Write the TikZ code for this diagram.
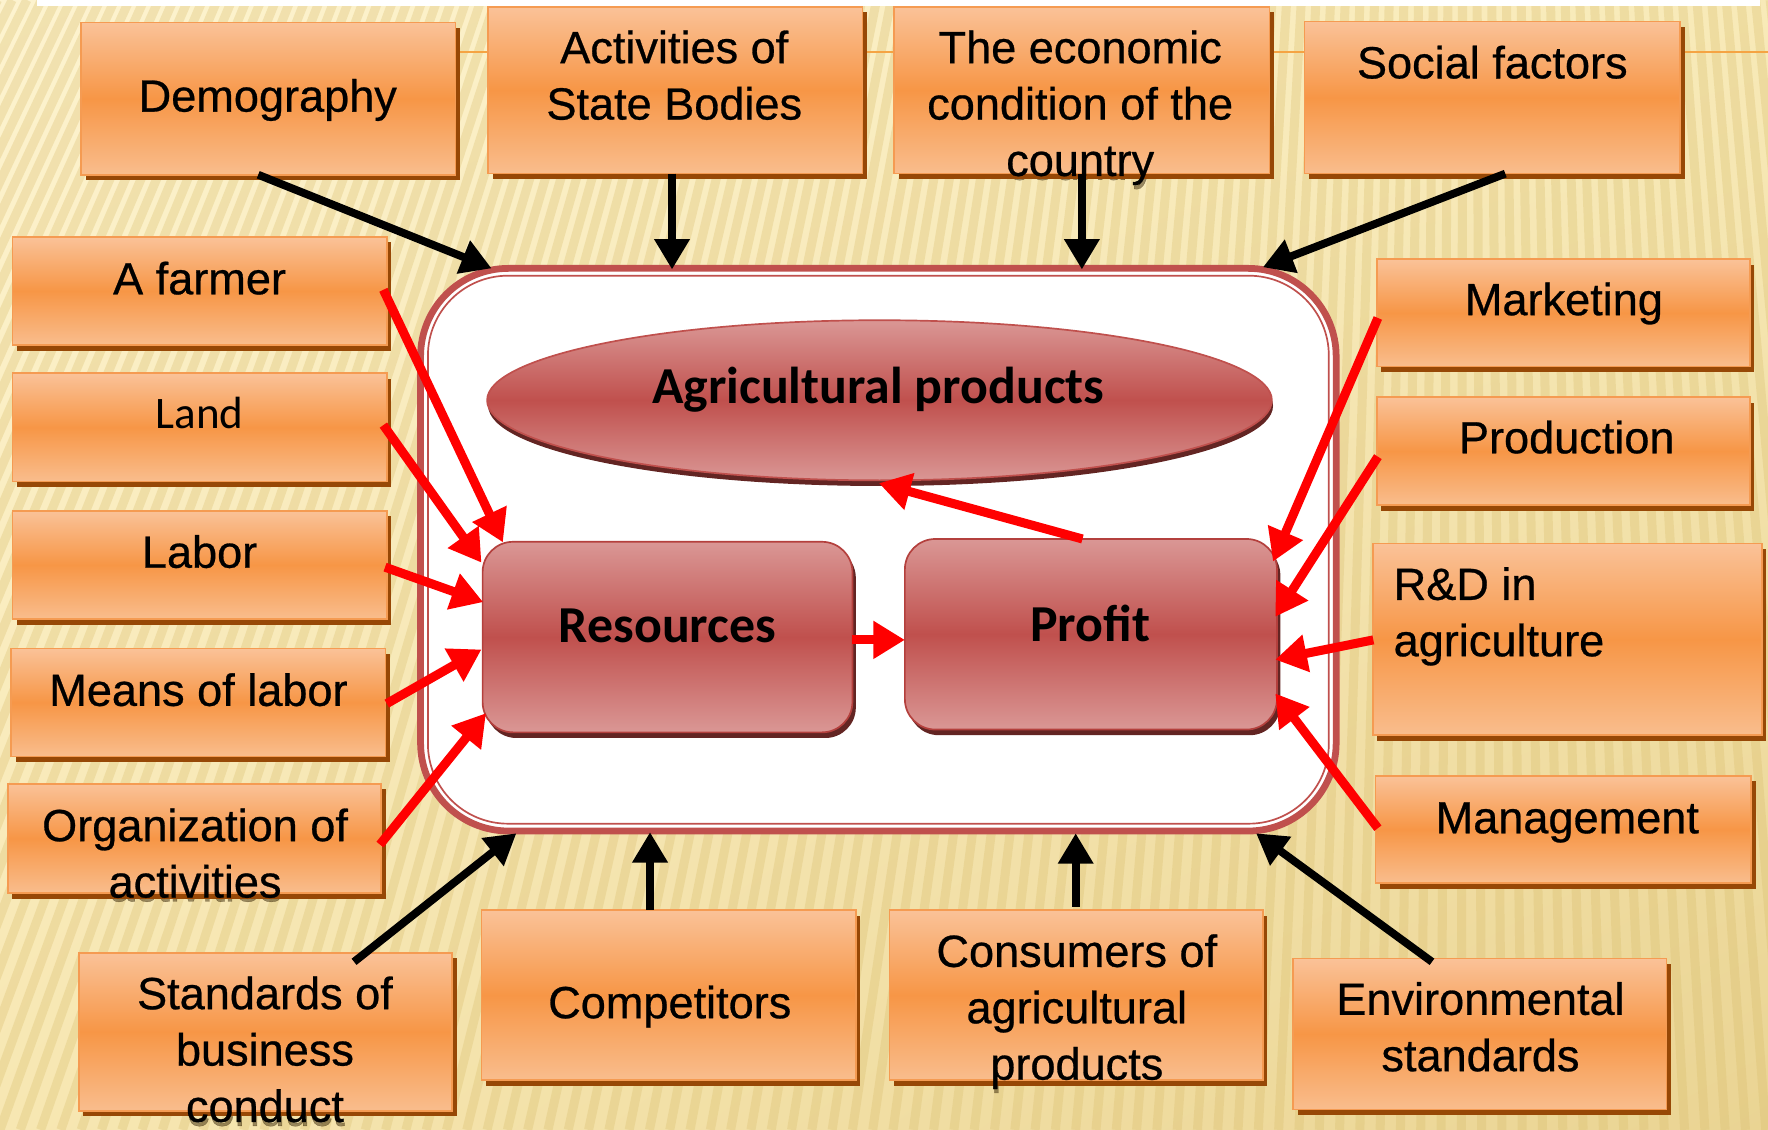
\documentclass[tikz,border=0pt]{standalone}
\usepackage{fontspec}
\setmainfont{Liberation Sans}[FakeBold=0.6]
\newfontfamily\carl{Carlito}
\usetikzlibrary{arrows.meta,shapes.geometric,shadows,shadings}
\definecolor{obord}{HTML}{F59B52}
\definecolor{otop}{HTML}{FAC298}
\definecolor{omid}{HTML}{F79646}
\definecolor{obot}{HTML}{F9BD8D}
\definecolor{oshad}{HTML}{974806}
\definecolor{rmain}{HTML}{C0504D}
\definecolor{rdark}{HTML}{B4403D}
\definecolor{rlight}{HTML}{DA9795}
\definecolor{rshad}{HTML}{632523}
\definecolor{txtshad}{HTML}{3C2A0A}
\definecolor{stripe}{HTML}{D8BC6A}
\definecolor{oline}{HTML}{F5A443}
\definecolor{bgUL}{HTML}{FDF3CF}
\definecolor{bgUR}{HTML}{F8EAB8}
\definecolor{bgLL}{HTML}{F7E7B2}
\definecolor{bgLR}{HTML}{EAD493}

\begin{document}
\begin{tikzpicture}[x=1pt,y=-1pt,
  obox/.style={rectangle, draw=obord, line width=1.5pt, inner sep=0pt, outer sep=0pt,
    top color=otop, bottom color=obot, middle color=omid,
    general shadow={fill=oshad, shadow xshift=4pt, shadow yshift=-5pt}},
  lbl/.style={font=\fontsize{40}{50}\selectfont, align=center, anchor=north, inner sep=0pt, outer sep=0pt, text=black},
  lblS/.style={lbl, text=txtshad, text opacity=0.5, xshift=1pt, yshift=-3.5pt},
  cbox/.style={rectangle, rounded corners=27pt, draw=rdark, line width=1.5pt, inner sep=0pt, outer sep=0pt,
    top color=rlight, bottom color=rlight, middle color=rmain,
    general shadow={fill=rshad, shadow xshift=3pt, shadow yshift=-5pt}},
  clbl/.style={font=\carl\bfseries\fontsize{46}{55}\selectfont, anchor=base, inner sep=0pt, outer sep=0pt},
  barrow/.style={draw=black, line width=7pt, -{Triangle[length=27pt,width=30pt]}},
  rarrow/.style={draw=red, line width=8pt, -{Triangle[length=28pt,width=32pt]}}]
\useasboundingbox (0,0) rectangle (1568,1002);
% background
\shade[upper left=bgUL, upper right=bgUR, lower left=bgLL, lower right=bgLR] (0,0) rectangle (1568,1002);
\begin{scope}
\clip (0,0) rectangle (1568,1002);
\foreach \xb in {-540,-522,...,1720}{
  \draw[stripe, line width=8pt, opacity=0.3] (\xb,1002) -- ({0.7218*\xb+361.6},0);
}
\end{scope}
\fill[white] (33,0) rectangle (1561,5);
\coordinate (lstart) at (404,46);
\coordinate (redge) at (1568,46);
\draw[oline, line width=2pt] (lstart) -- (redge);

% shadows of the texts that run out of their boxes
\node[lblS] (seco) at (958,21) {\strut The economic\\condition of the\\country};
\node[lblS] (sorg) at (173,711) {\strut Organization of\\activities};
\node[lblS] (sstd) at (235,860) {\strut Standards of\\business\\conduct};
\node[lblS] (scons) at (955,822.5) {\strut Consumers of\\agricultural\\products};

% boxes
\node[obox, minimum width=332pt, minimum height=135pt] (dem) at (238,87.5) {};
\node[obox, minimum width=332pt, minimum height=148pt] (act) at (599,80) {};
\node[obox, minimum width=333pt, minimum height=148pt] (eco) at (959.5,80) {};
\node[obox, minimum width=333pt, minimum height=135pt] (soc) at (1323.5,86.5) {};
\node[obox, minimum width=332pt, minimum height=96pt] (farmer) at (177,258) {};
\node[obox, minimum width=332pt, minimum height=96pt] (land) at (177,379) {};
\node[obox, minimum width=332pt, minimum height=96pt] (labor) at (177,501) {};
\node[obox, minimum width=332pt, minimum height=96pt] (means) at (176,623) {};
\node[obox, minimum width=331pt, minimum height=97pt] (org) at (172.5,743.5) {};
\node[obox, minimum width=331pt, minimum height=140pt] (std) at (235.5,915) {};
\node[obox, minimum width=332pt, minimum height=151pt] (comp) at (593,882.5) {};
\node[obox, minimum width=331pt, minimum height=151pt] (cons) at (954.5,882.5) {};
\node[obox, minimum width=331pt, minimum height=134pt] (env) at (1312.5,917) {};
\node[obox, minimum width=331pt, minimum height=95pt] (mkt) at (1386.5,277.5) {};
\node[obox, minimum width=331pt, minimum height=96pt] (prod) at (1386.5,400) {};
\node[obox, minimum width=345pt, minimum height=170pt] (rnd) at (1390,567) {};
\node[obox, minimum width=333pt, minimum height=95pt] (mgmt) at (1386.5,735.5) {};

% labels
\node[lbl] (tdem) at (237.5,64) {\strut Demography};
\node[lbl] (tact) at (598,21) {\strut Activities of\\State Bodies};
\node[lbl] (teco) at (958,21) {\strut The economic\\condition of the\\country};
\node[lbl] (tsoc) at (1323.5,34.5) {\strut Social factors};
\node[lbl] (tfarmer) at (177,226) {\strut A farmer};
\node[lbl] (tland) at (177,345) {\carl\strut Land};
\node[lbl] (tlabor) at (177,468.5) {\strut Labor};
\node[lbl] (tmeans) at (176,591) {\strut Means of labor};
\node[lbl] (torg) at (173,711) {\strut Organization of\\activities};
\node[lbl] (tstd) at (235,860) {\strut Standards of\\business\\conduct};
\node[lbl] (tcomp) at (594,868) {\strut Competitors};
\node[lbl] (tcons) at (955,822.5) {\strut Consumers of\\agricultural\\products};
\node[lbl] (tenv) at (1313,865) {\strut Environmental\\standards};
\node[lbl] (tmkt) at (1387,244.5) {\strut Marketing};
\node[lbl] (tprod) at (1389.5,367) {\strut Production};
\node[lbl, anchor=north west, align=left] (trnd) at (1236,497) {\strut R\&D in\\agriculture};
\node[lbl] (tmgmt) at (1390,704) {\strut Management};

% central frame
\node[draw=rmain, fill=white, line width=6pt, rounded corners=78pt, minimum width=812pt, minimum height=499pt, inner sep=0pt, outer sep=0pt] (frame) at (779,487.5) {};
\node[draw=rmain, line width=1.5pt, rounded corners=71pt, minimum width=799pt, minimum height=486pt, inner sep=0pt, outer sep=0pt] (framein) at (779,487.5) {};

\node[ellipse, draw=rmain, line width=1.5pt, top color=rlight, bottom color=rlight, middle color=rmain,
  minimum width=696pt, minimum height=142pt, inner sep=0pt, outer sep=0pt,
  general shadow={fill=rshad, shadow xshift=1pt, shadow yshift=-5pt}] (agri) at (780,355) {};
\node[cbox, minimum width=328pt, minimum height=169pt] (res) at (592,565) {};
\node[cbox, minimum width=330pt, minimum height=169pt] (prof) at (967.5,562.5) {};
\node[clbl] (agrit) at (779,357.5) {Agricultural products};
\node[clbl] (rest) at (592,570) {Resources};
\node[clbl] (proft) at (967,569) {Profit};

% black arrows
\draw[barrow] ([shift={(-9,0)}]dem.south) -- ([shift={(-343,0)}]frame.north);
\draw[barrow] ([shift={(-3,0)}]act.south) -- ([shift={(-183,1)}]frame.north);
\draw[barrow] (eco.south) -- ([shift={(180.5,1)}]frame.north);
\draw[barrow] ([shift={(11.5,0)}]soc.south) -- ([shift={(341,-1)}]frame.north);
\draw[barrow] ([shift={(78.5,8)}]std.north) -- ([shift={(-321,2)}]frame.south);
\draw[barrow] ([shift={(-16.5,0)}]comp.north) -- ([shift={(-202.5,1)}]frame.south);
\draw[barrow] ([shift={(-0.5,-3)}]cons.north) -- ([shift={(175,2)}]frame.south);
\draw[barrow] ([shift={(-42.5,3)}]env.north) -- ([shift={(335,2)}]frame.south);

% red arrows
\draw[rarrow] ([shift={(-3,-1)}]farmer.east) -- ([shift={(-146,0.5)}]res.north);
\draw[rarrow] ([shift={(-3,-2)}]land.east) -- ([shift={(-1,-66)}]res.west);
\draw[rarrow] ([shift={(-1.5,2)}]labor.east) -- ([shift={(0.5,-31)}]res.west);
\draw[rarrow] ([shift={(1,1)}]means.east) -- ([shift={(-1,11)}]res.west);
\draw[rarrow] ([shift={(-1,5.5)}]org.east) -- ([shift={(3,67.5)}]res.west);
\draw[rarrow] ([shift={(-0.5,2.5)}]res.east) -- ([shift={(0,5)}]prof.west);
\draw[rarrow] ([shift={(-7.5,0)}]prof.north) -- ([shift={(-0.5,2.5)}]agri.south);
\draw[rarrow] ([shift={(1,4.5)}]mkt.west) -- ([shift={(-3.5,-64.5)}]prof.east);
\draw[rarrow] ([shift={(1,5)}]prod.west) -- ([shift={(-1.5,-15.5)}]prof.east);
\draw[rarrow] ([shift={(0.5,0.5)}]rnd.west) -- ([shift={(-1.5,22.5)}]prof.east);
\draw[rarrow] ([shift={(2,-1)}]mgmt.west) -- ([shift={(-1.5,52.5)}]prof.east);
\end{tikzpicture}
\end{document}
